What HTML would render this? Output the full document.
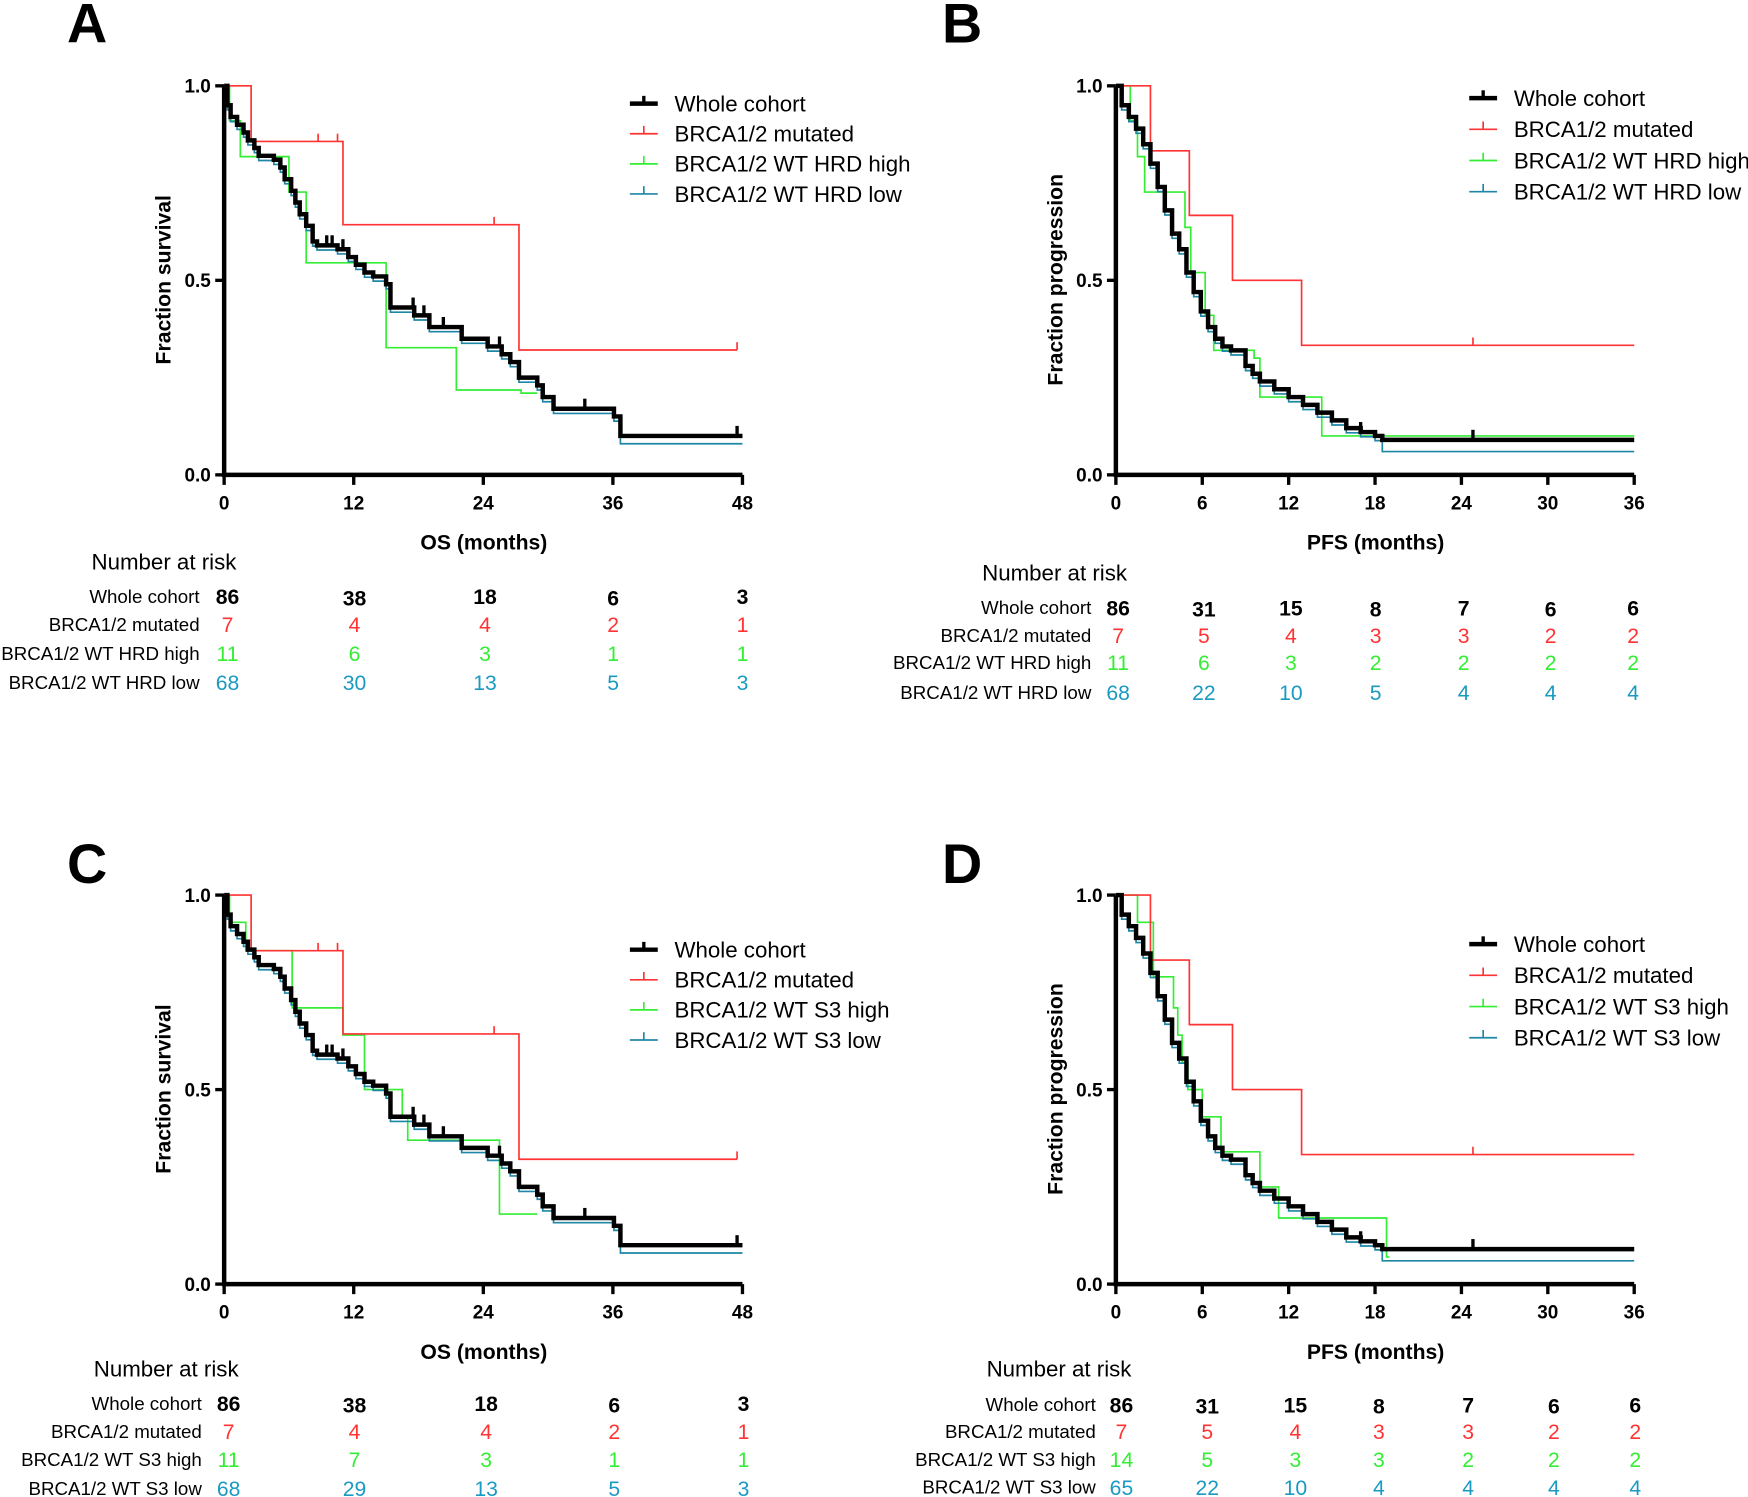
<!DOCTYPE html>
<html><head><meta charset="utf-8"><style>
html,body{margin:0;padding:0;background:#fff;}
svg{display:block;font-family:"Liberation Sans",Arial,sans-serif;}
.tk{font-weight:bold;font-size:17px;}
.at{font-weight:bold;font-size:19px;}
.lg{font-size:20px;}
.rl{font-size:16.8px;}
.rn{font-size:19px;}
.pl{font-weight:bold;font-size:50px;}
</style></head><body>
<svg id="s" width="1748" height="1497" viewBox="0 0 1568 1343" xmlns="http://www.w3.org/2000/svg"></svg>
<script>
var S=document.getElementById('s'),h='';
var RED='#ff3333',GRN='#33ee33',BLU='#1f86a6',BLUT='#1a9ac2';
function path(d,end,ox,oy,sx,sy,col,w){
 var p='M'+ox+','+(oy-d[0][1]*sy);
 for(var i=1;i<d.length;i++){p+=' H'+(ox+d[i][0]*sx).toFixed(1)+' V'+(oy-d[i][1]*sy).toFixed(1);}
 p+=' H'+(ox+end*sx).toFixed(1);
 h+='<path d="'+p+'" fill="none" stroke="'+col+'" stroke-width="'+w+'"/>';
}
function cens(pts,d,ox,oy,sx,sy,col,w,len){
 pts.forEach(function(t){var s=1;for(var i=0;i<d.length;i++)if(d[i][0]<=t)s=d[i][1];
 var x=ox+t*sx,y=oy-s*sy;h+='<line x1="'+x+'" y1="'+y+'" x2="'+x+'" y2="'+(y-len)+'" stroke="'+col+'" stroke-width="'+w+'"/>';});
}
function off(d,o,fin){return d.map(function(p,i){return i==0?p:[p[0],i==d.length-1?fin:p[1]-o];});}
var osB=[[0,1],[0.3,0.95],[0.6,0.92],[1.2,0.90],[1.8,0.88],[2.2,0.86],[2.8,0.84],[3.2,0.82],[4.6,0.81],[5.2,0.79],[5.6,0.76],[6.2,0.73],[6.6,0.70],[7,0.67],[7.6,0.64],[8.2,0.60],[8.6,0.59],[10.5,0.58],[11.5,0.56],[12.2,0.54],[13,0.52],[13.8,0.51],[15,0.49],[15.4,0.43],[17.6,0.41],[19,0.38],[22,0.35],[24.4,0.33],[25.7,0.31],[26.5,0.29],[27.3,0.25],[29,0.23],[29.5,0.20],[30.5,0.17],[36.1,0.15],[36.7,0.10]];
var osR=[[0,1],[2.5,0.857],[11,0.643],[27.3,0.321]];
var pfB=[[0,1],[0.4,0.95],[0.9,0.92],[1.4,0.89],[1.9,0.85],[2.4,0.80],[2.9,0.74],[3.4,0.68],[3.9,0.62],[4.4,0.58],[4.9,0.52],[5.4,0.47],[5.9,0.42],[6.4,0.38],[6.9,0.35],[7.4,0.33],[8,0.32],[9,0.28],[9.5,0.26],[10,0.24],[11,0.22],[12,0.20],[13,0.18],[14,0.16],[15,0.14],[16,0.12],[17,0.11],[18,0.10],[18.5,0.09]];
var pfR=[[0,1],[2.4,0.833],[5.1,0.667],[8.1,0.5],[12.9,0.333]];
function axes(ox,oy,xmax,step,xt,yt){
 var sx=465/xmax,sy=349;
 h+='<path d="M'+ox+','+(oy-sy)+' V'+oy+' H'+(ox+465)+'" fill="none" stroke="#000" stroke-width="4"/>';
 [0,0.5,1].forEach(function(v){var y=oy-v*sy;h+='<line x1="'+(ox-8)+'" y1="'+y+'" x2="'+ox+'" y2="'+y+'" stroke="#000" stroke-width="3"/><text class="tk" x="'+(ox-12)+'" y="'+(y+6)+'" text-anchor="end">'+v.toFixed(1)+'</text>';});
 for(var t=0;t<=xmax;t+=step){var x=ox+t*sx;h+='<line x1="'+x+'" y1="'+oy+'" x2="'+x+'" y2="'+(oy+9)+'" stroke="#000" stroke-width="3"/><text class="tk" x="'+x+'" y="'+(oy+31)+'" text-anchor="middle">'+t+'</text>';}
 h+='<text class="at" x="'+(ox+233)+'" y="'+(oy+67)+'" text-anchor="middle">'+xt+'</text>';
 h+='<text class="at" transform="translate('+(ox-48)+','+(oy-175)+') rotate(-90)" text-anchor="middle">'+yt+'</text>';
}
function legend(x,y0,dy,names){
 var cols=['#000',RED,GRN,BLU];
 names.forEach(function(n,i){var y=y0+i*dy;h+='<line x1="'+x+'" y1="'+y+'" x2="'+(x+25)+'" y2="'+y+'" stroke="'+cols[i]+'" stroke-width="'+(i?1.5:4)+'"/><line x1="'+(x+12.5)+'" y1="'+y+'" x2="'+(x+12.5)+'" y2="'+(y-7)+'" stroke="'+cols[i]+'" stroke-width="'+(i?1.5:3)+'"/><text class="lg" x="'+(x+40)+'" y="'+(y+7)+'">'+n+'</text>';});
}
function risk(tx,ty,lx,rows,xs,names,vals){
 var cols=['#000',RED,GRN,BLUT];
 h+='<text class="lg" x="'+tx+'" y="'+ty+'">Number at risk</text>';
 rows.forEach(function(y,i){h+='<text class="rl" x="'+lx+'" y="'+(y+6)+'" text-anchor="end">'+names[i]+'</text>';
 vals[i].forEach(function(v,j){h+='<text class="rn" x="'+xs[j]+'" y="'+(y+7+(i==0&&j%2==1?1:0))+'" text-anchor="middle" fill="'+cols[i]+'"'+(i==0?' font-weight="bold"':'')+'>'+v+'</text>';});});
}
function osPanel(ox,oy,g,names){
 var sx=465/48,sy=349;
 axes(ox,oy,48,12,'OS (months)','Fraction survival');
 path(g,29,ox,oy,sx,sy,GRN,1.5);
 path(off(osB,0.012,0.08),48,ox,oy,sx,sy,BLU,1.5);
 path(osR,47.5,ox,oy,sx,sy,RED,1.5);
 cens([8.7,10.5,25,47.5],osR,ox,oy,sx,sy,RED,1.5,7);
 path(osB,48,ox,oy,sx,sy,'#000',4);
 cens([9.5,10,11,17.5,18.5,20.3,25.5,33.4,47.5],osB,ox,oy,sx,sy,'#000',3,9);
}
function pfPanel(ox,oy,g,gend){
 var sx=465/36,sy=349;
 axes(ox,oy,36,6,'PFS (months)','Fraction progression');
 path(g,gend,ox,oy,sx,sy,GRN,1.5);
 path(off(pfB,0.012,0.06),36,ox,oy,sx,sy,BLU,1.5);
 path(pfR,36,ox,oy,sx,sy,RED,1.5);
 cens([2.4,24.8],pfR,ox,oy,sx,sy,RED,1.5,7);
 path(pfB,36,ox,oy,sx,sy,'#000',4);
 cens([17,24.8],pfB,ox,oy,sx,sy,'#000',3,9);
}
h+='<text class="pl" x="60" y="38">A</text><text class="pl" x="845" y="38">B</text><text class="pl" x="60" y="792">C</text><text class="pl" x="845" y="792">D</text>';
osPanel(201,426,[[0,1],[0.5,0.91],[1.5,0.818],[6,0.727],[7.6,0.545],[15,0.327],[21.5,0.218],[27.5,0.21]],0);
legend(565,93,27,['Whole cohort','BRCA1/2 mutated','BRCA1/2 WT HRD high','BRCA1/2 WT HRD low']);
risk(82,511,179,[535,560,586,612],[204,318,435,550,666],['Whole cohort','BRCA1/2 mutated','BRCA1/2 WT HRD high','BRCA1/2 WT HRD low'],[[86,38,18,6,3],[7,4,4,2,1],[11,6,3,1,1],[68,30,13,5,3]]);
pfPanel(1001,426,[[0,1],[1,0.91],[1.5,0.818],[2,0.727],[4.8,0.636],[5.2,0.52],[6.2,0.41],[6.8,0.32],[9.6,0.30],[10,0.2],[14.3,0.1]],36);
legend(1318,88,28,['Whole cohort','BRCA1/2 mutated','BRCA1/2 WT HRD high','BRCA1/2 WT HRD low']);
risk(881,521,979,[545,570,594,621],[1003,1080,1158,1234,1313,1391,1465],['Whole cohort','BRCA1/2 mutated','BRCA1/2 WT HRD high','BRCA1/2 WT HRD low'],[[86,31,15,8,7,6,6],[7,5,4,3,3,2,2],[11,6,3,2,2,2,2],[68,22,10,5,4,4,4]]);
osPanel(201,1152,[[0,1],[0.5,0.93],[2,0.857],[6.3,0.71],[11,0.64],[13,0.5],[16.5,0.43],[17,0.37],[25.5,0.18]],0);
legend(565,852,27,['Whole cohort','BRCA1/2 mutated','BRCA1/2 WT S3 high','BRCA1/2 WT S3 low']);
risk(84,1235,181,[1259,1284,1309,1335],[205,318,436,551,667],['Whole cohort','BRCA1/2 mutated','BRCA1/2 WT S3 high','BRCA1/2 WT S3 low'],[[86,38,18,6,3],[7,4,4,2,1],[11,7,3,1,1],[68,29,13,5,3]]);
pfPanel(1001,1152,[[0,1],[1.5,0.93],[2.6,0.79],[4,0.71],[4.3,0.64],[4.6,0.57],[5,0.5],[6,0.43],[7.3,0.34],[10,0.25],[11.3,0.17],[18.8,0.07]],19);
legend(1318,847,28,['Whole cohort','BRCA1/2 mutated','BRCA1/2 WT S3 high','BRCA1/2 WT S3 low']);
risk(885,1235,983,[1260,1284,1309,1334],[1006,1083,1162,1237,1317,1394,1467],['Whole cohort','BRCA1/2 mutated','BRCA1/2 WT S3 high','BRCA1/2 WT S3 low'],[[86,31,15,8,7,6,6],[7,5,4,3,3,2,2],[14,5,3,3,2,2,2],[65,22,10,4,4,4,4]]);
S.innerHTML=h;
</script>
</body></html>
